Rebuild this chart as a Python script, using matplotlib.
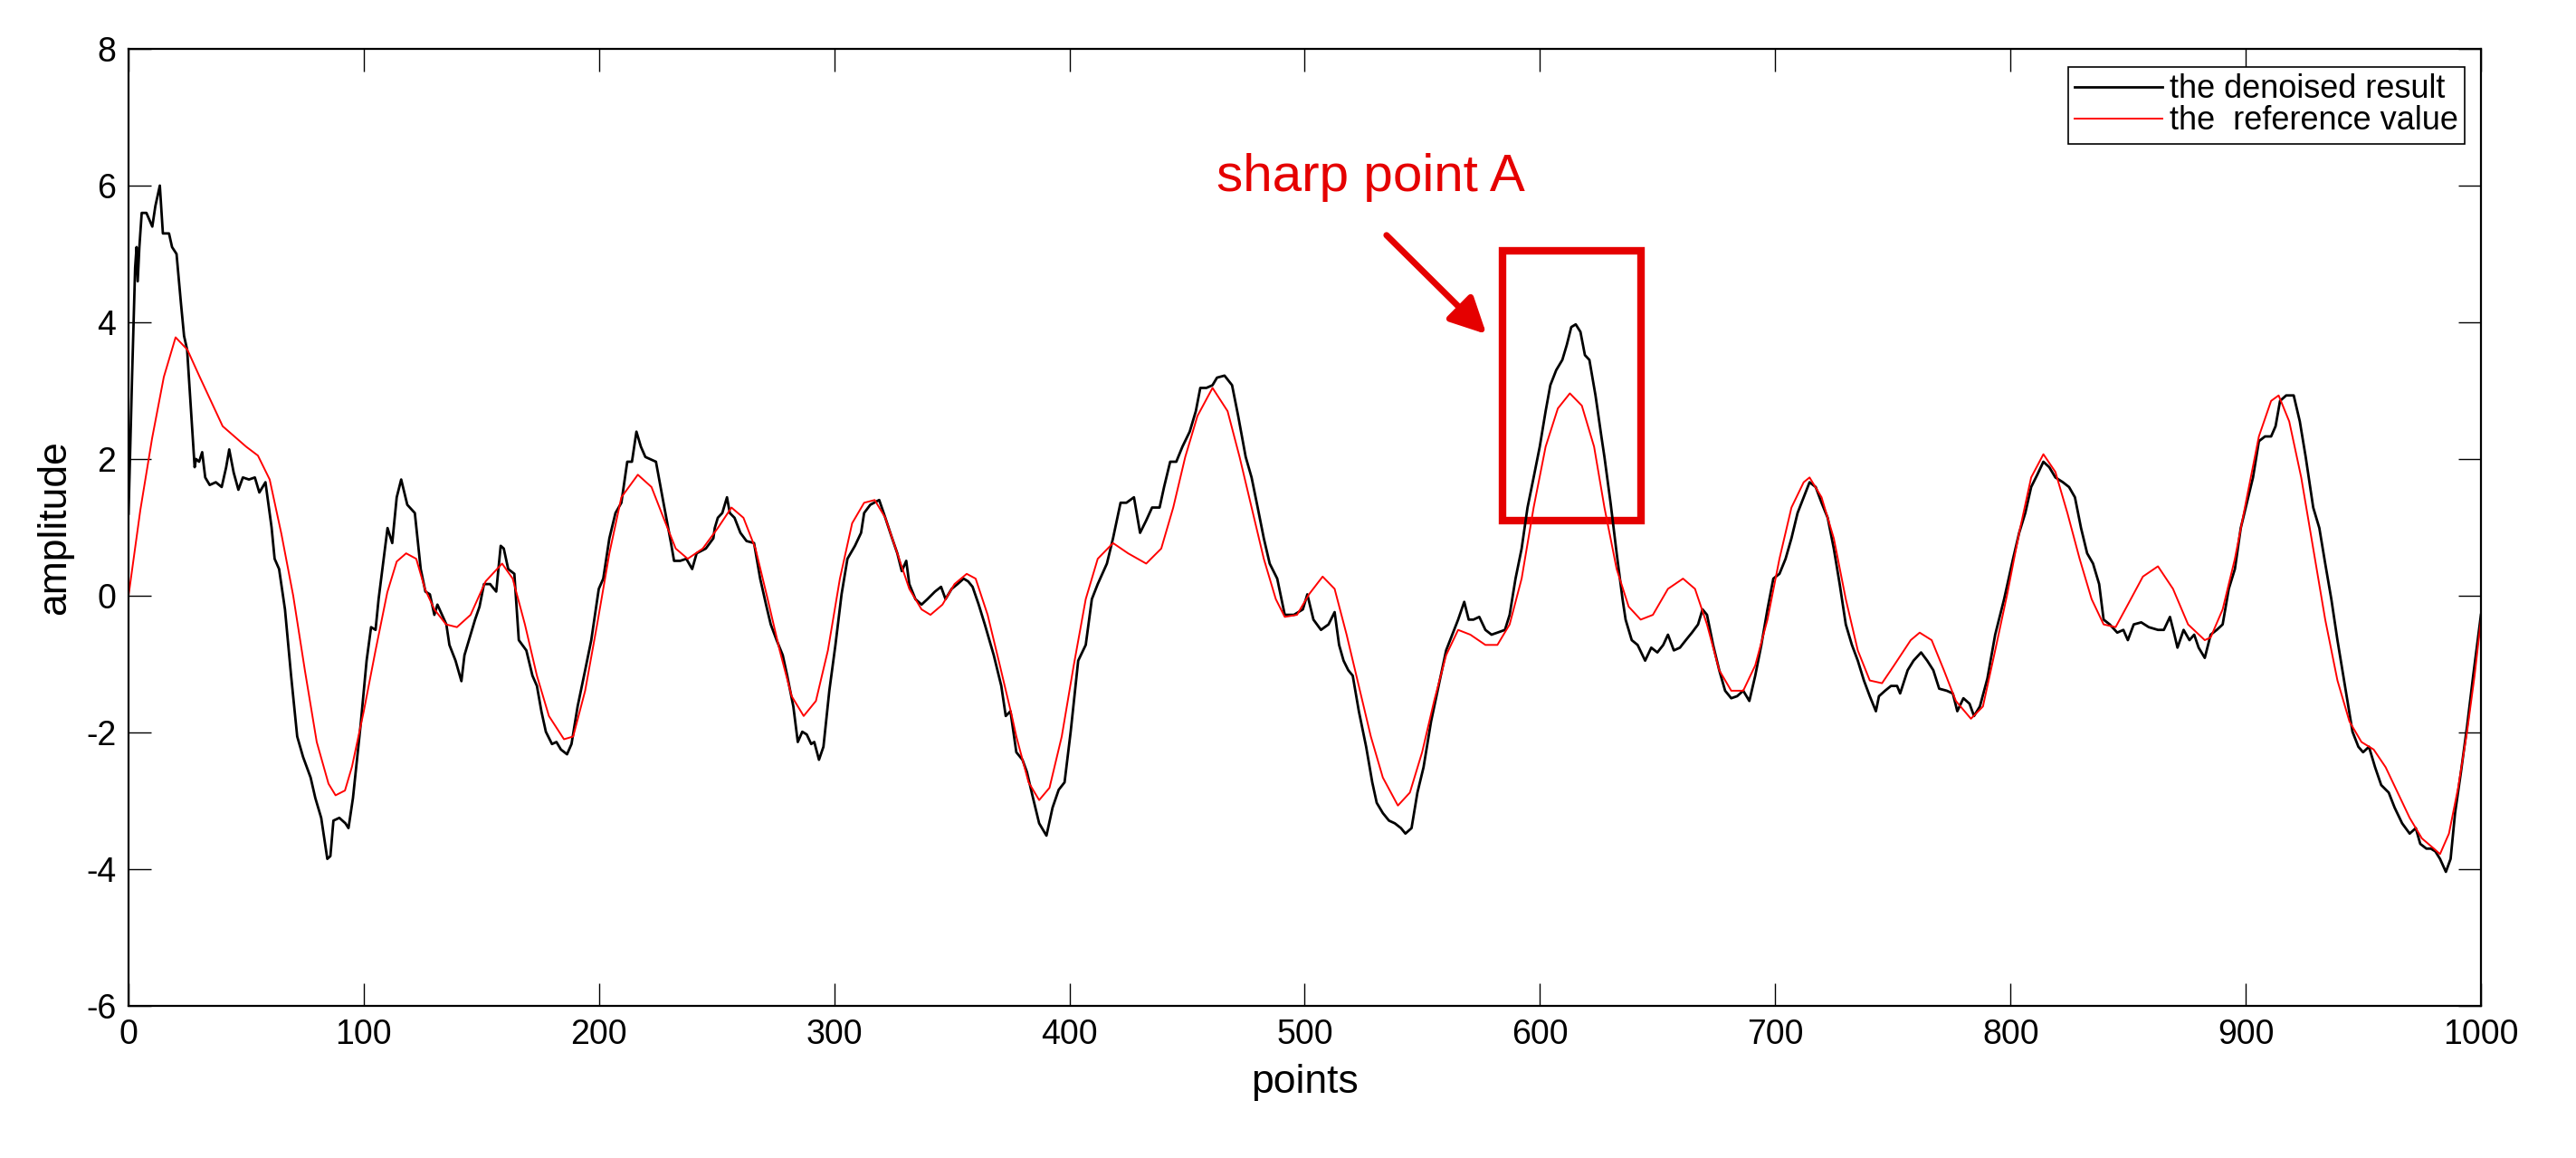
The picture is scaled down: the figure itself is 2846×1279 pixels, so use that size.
import matplotlib
matplotlib.use('Agg')
import matplotlib.pyplot as plt
from matplotlib.patches import Rectangle

plt.rcParams['font.family'] = ['Liberation Sans', 'DejaVu Sans']
plt.rcParams['axes.unicode_minus'] = False

# denoised result (black)
denoised_x = [0, 1.5, 2.8, 3.4, 3.9, 4.6, 5.6, 7.6, 10.1, 11.4, 13.3, 14.6, 17.2, 18.5, 20.4, 22.3, 23.6, 24.9, 26.2,
              28.1, 28.7, 30.0, 31.3, 32.6, 34.5, 37.1, 39.6, 41.5, 42.8, 44.7, 46.7, 48.6, 51.2, 53.7, 55.6, 58.2,
              60.8, 62.1, 64.0, 66.5, 69.1, 71.7, 74.2, 77.4, 79.4, 81.9, 84.5, 85.8, 87.1, 89.6, 92.2, 93.5, 95.4,
              98.6, 101.2, 103.1, 105.0, 106.3, 108.2, 110.1, 112.1, 114.0, 115.9, 118.5, 121.7, 124.2, 126.2,
              128.1, 130, 131.3, 135.1, 136.4, 139, 141.5, 142.8, 144.7, 147.3, 149.2, 151.1, 153.7, 156.3, 158.2,
              159.5, 161.4, 164, 165.9, 169.1, 171.7, 173.6, 175.5, 177.4, 180, 181.9, 183.8, 186.4, 188.3, 190.9,
              194.1, 196.7, 199.9, 201.8, 204.4, 207, 209.5, 212, 214, 215.9, 217.8, 219.7, 224.2, 227.4, 230.6,
              231.9, 234.5, 237.1, 239.6, 241.5, 245.4, 248.6,
              249.2, 250.5, 252.4, 254.4, 255.6, 257.6, 260.1, 262.7, 265.9, 268.5, 271, 273, 275.5, 278.1, 280,
              282.6, 284.5, 286.4, 288.3, 290.2, 291.5, 293.5, 295.4, 297.9, 300.5, 303.1, 305.6, 308.8, 311.4,
              312.7, 315.3, 319.1, 321.7, 324.2, 326.8, 328.7, 330.6, 331.9, 334.5, 337.1, 339.6, 342.8, 345.4,
              347.3, 349.9, 352.4, 355, 356.9, 358.8, 361.4, 364, 367.8, 371, 372.9, 374.9,
              377.4, 380, 381.9, 384.5, 387.1, 390.2, 392.8, 395.4, 397.9, 400.5, 403.7, 406.9, 409.5, 412, 415.9,
              418.5, 421.7, 424.2, 427.4, 430, 432.6, 435.1, 438.3, 440.2, 442.8, 445.4, 448, 451.1, 453.7, 455.6,
              458.2, 460.8, 462.7, 465.9, 469.1, 471.7, 474.9, 477.4, 480, 482.6, 485.1, 488.3, 491.5, 495.4, 499.2,
              501.1, 503.7, 506.9, 510.1, 512.7, 514.6, 516.5, 518.5, 520.4, 523, 526.1, 528.7, 530.6, 533.2,
              535.8, 538.3, 540.9, 542.8, 545.4, 547.9, 550.5, 553.7, 556.9, 560.1, 562.7, 565.2, 567.8, 569.7,
              571.7, 574.2, 576.8, 579.4, 581.9, 585.1, 587.1, 589.6, 592.2, 594.7, 597.3, 599.9, 602.4, 604.4,
              606.9, 609.5, 611.4, 613.3, 615.2, 617.2, 619.1, 621, 623.6, 626.1,
              627.4, 630, 632.6, 635.1, 636.4, 639, 641.5, 644.7, 647.3, 649.9, 652.4, 654.4, 656.9, 659.5, 662,
              664.6, 667.2, 669.1, 671, 673.6, 676.2, 678.7, 681.3, 683.8, 686.4, 689, 691.5, 694.1, 696.7, 699.2,
              701.8, 704.4, 706.9, 709.5, 712.1, 714.6, 717.2, 719.7, 722.3, 724.9, 727.4, 730, 732.6, 735.1,
              737.7, 740.2, 742.8, 744.1, 746.7, 749.2, 751.8,
              753.1, 756.3, 758.8, 762, 764.6, 767.2, 769.7, 772.9, 775.5, 777.4, 780, 782.6, 784.5, 787, 790.2,
              793.5, 797.3, 801.1, 803.7, 806.3, 808.8, 811.4, 814, 816.5, 819.1, 822.3, 824.9, 827.4, 830, 832.6,
              835.1, 837.7, 839.6, 842.2, 845.4, 848, 849.9, 852.4, 855.6, 858.8, 862.7, 865.2, 867.8, 869.7, 871,
              873.6,
              876.1, 878.1, 880, 882.6, 885.1, 887.7, 890.2, 892.8, 895.4, 897.9, 900.5, 903.1, 905.6, 908.2,
              910.8, 912.7, 914.6, 917.2, 920.4, 923, 925.5, 928.7, 931.3, 933.8, 936.4, 939, 942.2, 945.4, 947.9,
              949.9, 952.4, 955, 957.6, 960.8, 963.3, 966.5, 969.7, 972.3, 974.2, 976.8, 978.7, 980.6, 982.6,
              985.1, 987.1, 989, 991.5, 994.1, 996.7, 1000]
denoised_y = [1.2, 3.2, 4.8, 5.1, 4.6, 5.1, 5.6, 5.6, 5.4, 5.7, 6.0, 5.3, 5.3, 5.1, 5.0, 4.27, 3.8, 3.6, 2.9,
              1.88, 2.0, 1.96, 2.1, 1.73, 1.62, 1.66, 1.59, 1.88, 2.14, 1.8, 1.55, 1.73, 1.7, 1.73, 1.51, 1.66,
              1.0, 0.54, 0.39, -0.2, -1.17, -2.06, -2.36, -2.66, -2.96, -3.25, -3.85, -3.81, -3.29, -3.25, -3.33,
              -3.4, -2.96, -1.91, -0.95, -0.46, -0.5, -0.05, 0.47, 0.99, 0.77, 1.44, 1.7, 1.33, 1.21, 0.39, 0.06,
              0.02, -0.28, -0.13, -0.42, -0.72, -0.95, -1.25, -0.87, -0.65, -0.35, -0.16, 0.17, 0.17, 0.06, 0.73,
              0.69, 0.39, 0.32, -0.65, -0.8, -1.17, -1.32, -1.69, -1.99, -2.17, -2.14, -2.25, -2.32, -2.17, -1.62,
              -1.09, -0.65, 0.1, 0.25, 0.84, 1.21, 1.36, 1.96, 1.96, 2.4, 2.18, 2.03, 1.96, 1.36, 0.77,
              0.51, 0.51, 0.54, 0.39, 0.62, 0.69, 0.84,
              0.99, 1.14, 1.21, 1.44, 1.21, 1.14, 0.92, 0.8, 0.77, 0.25, -0.13, -0.42, -0.65, -0.87, -1.17,
              -1.62, -2.14, -1.99, -2.03, -2.17, -2.14, -2.4, -2.21, -1.39, -0.72, 0.02, 0.54, 0.73, 0.92,
              1.21, 1.33, 1.4, 1.14, 0.88, 0.62, 0.36, 0.51, 0.17, -0.05, -0.13, -0.05, 0.06, 0.13,
              -0.05, 0.1, 0.17, 0.25, 0.21, 0.13, -0.13, -0.42, -0.87, -1.32, -1.76, -1.69,
              -2.29, -2.4, -2.58, -2.96, -3.33, -3.51, -3.1, -2.84, -2.73, -1.99, -0.95, -0.72, -0.05, 0.17, 0.47,
              0.84, 1.36, 1.36, 1.44, 0.92, 1.1, 1.29, 1.29, 1.59, 1.96, 1.96, 2.18, 2.4, 2.7, 3.04,
              3.04, 3.08, 3.19, 3.22, 3.08, 2.63, 2.03, 1.73, 1.29, 0.84, 0.47, 0.25, -0.28, -0.28, -0.2,
              0.02, -0.35, -0.5, -0.42, -0.24, -0.72, -0.95, -1.09, -1.17, -1.69, -2.21, -2.73, -3.03, -3.18,
              -3.29, -3.33, -3.4, -3.48, -3.4, -2.88, -2.51, -1.84, -1.32, -0.8, -0.57, -0.35, -0.09, -0.35,
              -0.35, -0.31, -0.5, -0.57, -0.54, -0.5, -0.28, 0.25, 0.69, 1.29, 1.73, 2.18, 2.7, 3.08,
              3.3, 3.45, 3.67, 3.93, 3.97, 3.86, 3.52, 3.45, 2.93, 2.33,
              2.03, 1.36, 0.62, -0.05, -0.35, -0.65, -0.72, -0.95, -0.76, -0.83, -0.72, -0.57, -0.8, -0.76, -0.65,
              -0.54, -0.42, -0.2, -0.28, -0.72, -1.09, -1.39, -1.5, -1.47, -1.39, -1.54, -1.17, -0.72, -0.2, 0.25,
              0.32, 0.54, 0.84, 1.21, 1.44, 1.66, 1.59, 1.36, 1.14, 0.69, 0.17, -0.42, -0.72, -0.95,
              -1.24, -1.47, -1.69, -1.47, -1.39, -1.32, -1.32,
              -1.43, -1.09, -0.95, -0.83, -0.95, -1.09, -1.36, -1.39, -1.43, -1.69, -1.5, -1.58, -1.76, -1.62, -1.21,
              -0.57, -0.05, 0.54, 0.92, 1.21, 1.59, 1.77, 1.96, 1.88, 1.73, 1.66, 1.59, 1.44, 0.99, 0.62,
              0.47, 0.17, -0.35, -0.42, -0.54, -0.5, -0.65, -0.42, -0.39, -0.46, -0.5, -0.5, -0.31, -0.57, -0.76,
              -0.5,
              -0.65, -0.57, -0.76, -0.91, -0.57, -0.5, -0.42, 0.1, 0.39, 0.99, 1.36, 1.73, 2.26, 2.33,
              2.33, 2.48, 2.85, 2.93, 2.93, 2.55, 2.03, 1.29, 0.99, 0.47, -0.05, -0.65, -1.32, -1.99, -2.21,
              -2.29, -2.21, -2.51, -2.77, -2.88, -3.1, -3.33, -3.48, -3.4, -3.63, -3.7, -3.7, -3.74, -3.85,
              -4.04, -3.85, -3.18, -2.58, -1.91, -1.17, -0.28]

# reference value (red)
reference_x = [0, 5, 10, 15, 20, 25, 30, 40, 50, 55, 60, 65, 70, 75, 80, 85, 88, 92, 95, 100, 105, 110, 114, 118,
               122.3, 126, 130, 135, 139.6, 145.4, 151.8, 158.8, 163.3, 168.5, 173.6, 178.7, 185.1, 189, 194.1,
               199.2, 204.4, 209.5, 216.5, 222.3, 227.4, 232.6, 237.7, 244.1, 250.5, 256.3, 261.4, 266.5, 271.7,
               276.8, 281.9, 287, 292.2, 297.3, 302.4, 307.6, 312.7, 317.2, 321.7, 326.8, 331.9, 337.1, 340.9, 346,
               351.1, 356.3, 360.1, 365.2, 370.4, 375.5, 377.4, 382.6, 387.1, 391.5, 396.7, 401.8, 406.9, 412,
               418.5, 424.9, 432.6, 439, 444.1, 449.2, 454.4, 460.8, 467.2, 472.3, 477.4, 482.6, 487.7, 491.5,
               496.7, 501.8, 507.6, 512.7, 517.8, 523, 528.1, 533.2, 539.6, 544.7, 549.9, 555, 560.1, 565.2, 570.4,
               576.8, 581.9, 587.1, 592.2, 597.3, 602.4, 607.6, 612.7, 617.8, 623, 627.4, 632.6, 637.7, 642.8, 648,
               654.4, 660.8, 665.9, 671, 676.2, 681.3, 686.4, 691.5, 696.7, 701.8, 706.9, 712.1, 714.6, 719.7,
               724.9, 730, 735.1, 740.2, 745.4, 750.5, 757.6, 761.4, 766.5, 771.7, 776.8, 783.2, 788.3, 793.5,
               798.6, 803.7, 808.8, 814, 819.1, 824.2, 829.4, 834.5, 839.6, 844.7, 849.9, 856.3, 862.7, 869.1,
               875.5, 882.6, 885.1, 890.2, 895.4, 900.5, 905.6, 910.8, 914, 918.5, 923.6, 928.7, 933.8, 939, 944.1,
               949.2, 954.4, 959.5, 964.6, 969.7, 974.9, 980, 982.6, 986.4, 990.3, 994.1, 997.3, 1000]
reference_y = [0, 1.25, 2.3, 3.2, 3.78, 3.6, 3.22, 2.48, 2.18, 2.05, 1.7, 0.9, 0.0, -1.1, -2.14, -2.75, -2.92, -2.85,
               -2.5, -1.69, -0.8, 0.05, 0.5, 0.62,
               0.54, 0.1, -0.2, -0.42, -0.46, -0.28, 0.21, 0.47, 0.25, -0.42, -1.17, -1.76, -2.1, -2.06, -1.39,
               -0.42, 0.62, 1.44, 1.77, 1.59, 1.14, 0.69, 0.54, 0.69, 0.99, 1.29, 1.14, 0.69, -0.05,
               -0.8, -1.47, -1.76, -1.54, -0.8, 0.25, 1.06, 1.36, 1.4, 1.14, 0.62, 0.1, -0.2, -0.28, -0.13,
               0.17, 0.32, 0.25, -0.28, -1.02, -1.76, -2.06, -2.73, -2.99, -2.81, -2.06, -1.02, -0.05, 0.54,
               0.77, 0.62, 0.47, 0.69, 1.29, 2.03, 2.63, 3.04, 2.7, 2.03, 1.29, 0.54, -0.05, -0.31,
               -0.28, 0.02, 0.28, 0.1, -0.57, -1.32, -2.06, -2.66, -3.07, -2.88, -2.29, -1.54, -0.87, -0.5, -0.57,
               -0.72, -0.72, -0.42, 0.25, 1.29, 2.18, 2.74, 2.96, 2.78, 2.18, 1.29, 0.39, -0.16, -0.35, -0.28,
               0.1, 0.25, 0.1, -0.42, -1.09, -1.39, -1.39, -1.02, -0.35, 0.54, 1.29, 1.66, 1.73, 1.44,
               0.84, -0.05, -0.8, -1.24, -1.28, -1.02, -0.65, -0.54, -0.65, -1.09, -1.54, -1.8, -1.62, -0.8,
               0.02, 0.92, 1.73, 2.07, 1.81, 1.21, 0.54, -0.05, -0.42, -0.46, -0.13, 0.28, 0.43, 0.1,
               -0.42, -0.65, -0.61, -0.2, 0.54, 1.44, 2.33, 2.85, 2.93, 2.55, 1.73, 0.69, -0.35, -1.24, -1.84,
               -2.14, -2.25, -2.51, -2.88, -3.25, -3.55, -3.7, -3.78, -3.48, -2.81, -1.99, -1.17, -0.35]

xticks = list(range(0, 1001, 100))
yticks = list(range(-6, 9, 2))
mark_red = '#e50000'

fig = plt.figure(figsize=(28.46, 12.79), dpi=100)
ax = fig.add_axes([0.0499, 0.1314, 0.9132, 0.8264])

ax.plot(denoised_x, denoised_y, color='black', lw=2.0, label='the denoised result')
ax.plot(reference_x, reference_y, color='red', lw=1.4, label='the  reference value')

ax.set_xlim(0, 1000)
ax.set_ylim(-6, 8)
ax.set_xticks(xticks)
ax.set_yticks(yticks)
ax.tick_params(direction='in', length=18, width=1.0, labelsize=27, top=True, right=True, pad=10)
for s in ax.spines.values():
    s.set_linewidth(1.6)

ax.set_xlabel('points', fontsize=32, labelpad=10)
ax.set_ylabel('amplitude', fontsize=32, labelpad=10)

leg = ax.legend(loc='upper right', bbox_to_anchor=(0.993, 0.981), borderaxespad=0, fontsize=26,
                fancybox=False, edgecolor='black', framealpha=1, handlelength=2.7, handletextpad=0.2,
                labelspacing=0.0, borderpad=0.2)
leg.get_frame().set_linewidth(1.2)

# annotation for the sharp point
ax.add_patch(Rectangle((584, 1.1), 59, 3.95, fill=False, edgecolor=mark_red, lw=6))
ax.annotate('', xy=(578, 3.8), xytext=(534, 5.3),
            arrowprops=dict(arrowstyle='-|>', color=mark_red, lw=5, mutation_scale=60))
ax.text(528, 6.12, 'sharp point A', ha='center', va='center', fontsize=42, color=mark_red)

fig.savefig('out.png', dpi=100)
